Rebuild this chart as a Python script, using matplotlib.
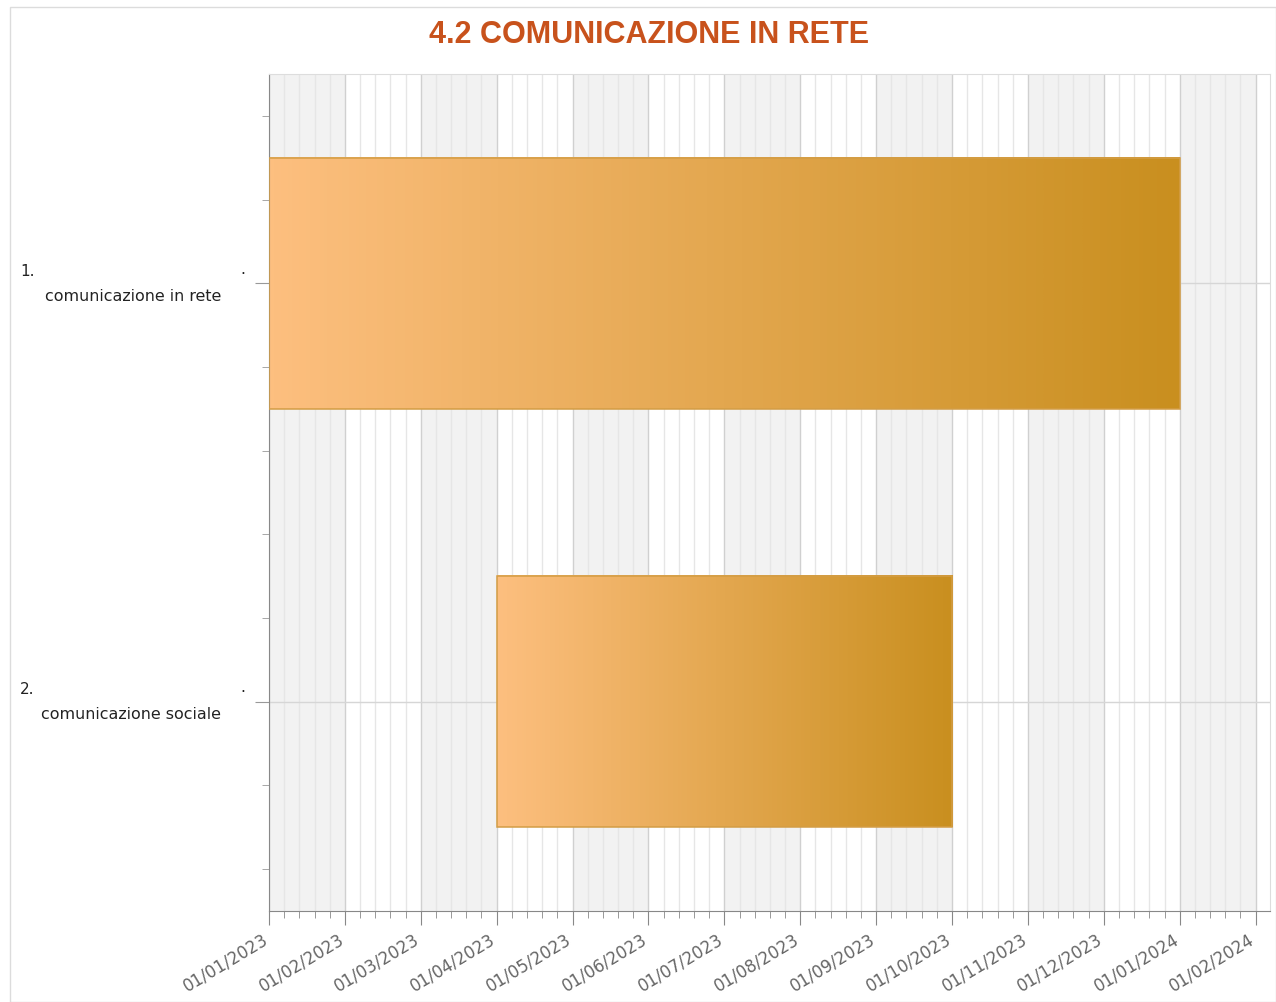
import matplotlib
matplotlib.use("Agg")
import matplotlib.pyplot as plt
import numpy as np
from matplotlib.colors import LinearSegmentedColormap
from matplotlib.patches import Rectangle

# task data
tasks = ["comunicazione in rete", "comunicazione sociale"]
numbers = ["1.", "2."]
starts = ["01/01/2023", "01/04/2023"]
ends = ["01/01/2024", "01/10/2023"]

# x axis: one tick per month, evenly spaced
tick_labels = ["01/01/2023", "01/02/2023", "01/03/2023", "01/04/2023",
               "01/05/2023", "01/06/2023", "01/07/2023", "01/08/2023",
               "01/09/2023", "01/10/2023", "01/11/2023", "01/12/2023",
               "01/01/2024", "01/02/2024"]


def month_index(s):
    d, m, y = [int(v) for v in s.split("/")]
    return (y - 2023) * 12 + (m - 1) + (d - 1) / 30.0


fig = plt.figure(figsize=(12.76, 10.03), dpi=100)
ax = fig.add_axes([269 / 1276, 1 - 912 / 1003, 1001 / 1276, 837 / 1003])

# outer frame
fig.patches.append(Rectangle((10 / 1276, 0), 1 - 10 / 1276, 1 - 8 / 1003,
                             transform=fig.transFigure, fill=False,
                             edgecolor="#dcdcdc", lw=1))

xmax = 13.19
# alternating month bands
for i in range(0, 14, 2):
    ax.axvspan(i, min(i + 1, xmax), color="#f2f2f2", zorder=0, lw=0)

# grid lines
for i in range(14):
    ax.axvline(i, color="#d0d0d0", lw=1, zorder=1)
    for k in range(1, 5):
        xm = i + k / 5
        if xm < xmax:
            ax.axvline(xm, color="#e6e6e6", lw=1, zorder=1)
for yc in [0.5, 1.5]:
    ax.axhline(yc, color="#d6d6d6", lw=1, zorder=1)

# gradient bars
cmap = LinearSegmentedColormap.from_list("bar", ["#fdbf7f", "#c98f1f"])
grad = np.linspace(0, 1, 256).reshape(1, -1)
for i, (s, e) in enumerate(zip(starts, ends)):
    x0, x1 = month_index(s), month_index(e)
    yc = i + 0.5
    ax.imshow(grad, cmap=cmap, aspect="auto", extent=(x0, x1, yc + 0.3, yc - 0.3),
              zorder=2, interpolation="bicubic")
    ax.add_patch(Rectangle((x0, yc - 0.3), x1 - x0, 0.6, fill=False,
                           edgecolor="#d39d45", lw=1.1, zorder=3))

    ax.annotate(numbers[i], xy=(20 / 1276, yc), xycoords=("figure fraction", "data"),
                xytext=(0, 13), textcoords="offset pixels", va="center",
                fontsize=11, color="#222222")
    ax.annotate(".", xy=(240 / 1276, yc), xycoords=("figure fraction", "data"),
                xytext=(0, 15), textcoords="offset pixels", va="center",
                fontsize=11, color="#222222")
    ax.annotate(tasks[i], xy=(221 / 1276, yc), xycoords=("figure fraction", "data"),
                xytext=(0, -12), textcoords="offset pixels", va="center", ha="right",
                fontsize=11.4, color="#222222")

ax.set_xlim(0, xmax)
ax.set_ylim(2, 0)

ax.set_xticks(range(14))
ax.set_xticklabels(tick_labels, rotation=31, ha="right", va="baseline",
                   rotation_mode="anchor", fontsize=12, color="#666666")
ax.set_xticks([i + k / 5 for i in range(14) for k in range(1, 5) if i + k / 5 < xmax],
              minor=True)
ax.tick_params(axis="x", which="major", length=10, color="#888888", pad=12)
ax.tick_params(axis="x", which="minor", length=5, color="#888888")

ax.set_yticks([0.5, 1.5])
ax.set_yticklabels(["", ""])
ax.set_yticks([0.1, 0.3, 0.7, 0.9, 1.1, 1.3, 1.7, 1.9], minor=True)
ax.tick_params(axis="y", which="major", length=10, color="#999999")
ax.tick_params(axis="y", which="minor", length=5, color="#999999")

for side in ["left", "bottom"]:
    ax.spines[side].set_color("#888888")
for side in ["top", "right"]:
    ax.spines[side].set_color("#dddddd")

fig.text(649 / 1276, 1 - 35 / 1003, "4.2 COMUNICAZIONE IN RETE",
         ha="center", va="center", fontsize=22, fontweight="bold",
         color="#c8521c", family=["Liberation Sans", "DejaVu Sans"])

fig.savefig("out.png", dpi=100)
